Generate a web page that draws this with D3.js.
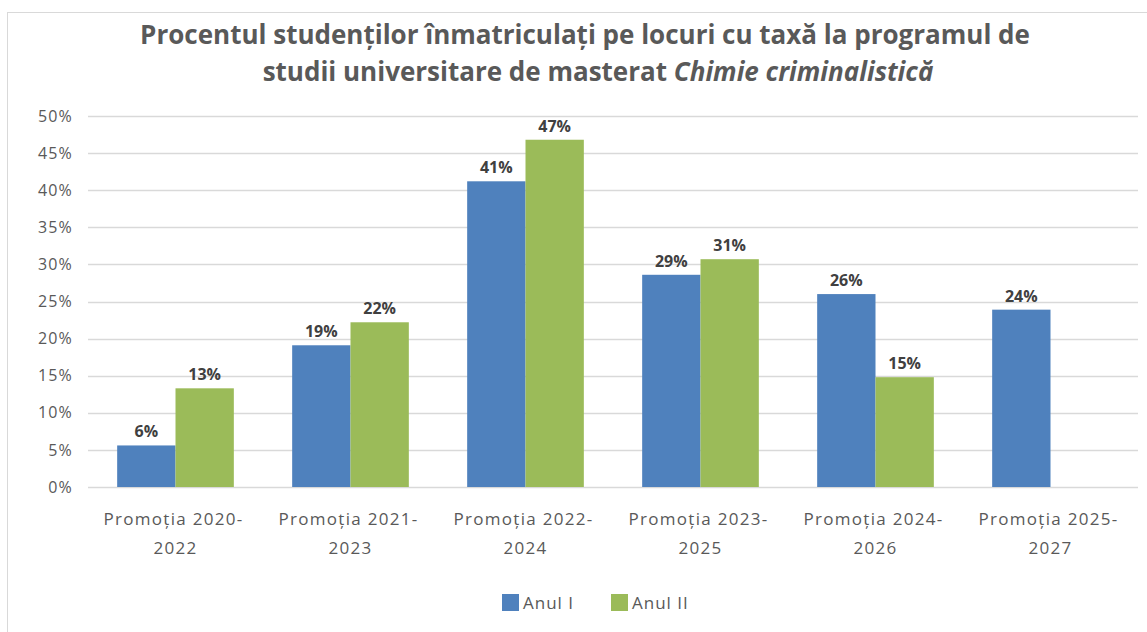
<!DOCTYPE html>
<html>
<head>
<meta charset="utf-8">
<script src="https://cdn.jsdelivr.net/npm/d3@7"></script>
<style>
  body { margin: 0; background: #fff; }
  svg { display: block; font-family: 'Open Sans', sans-serif; }
</style>
</head>
<body>
<script>
let categories = ['Promoția 2020-2022', 'Promoția 2021-2023', 'Promoția 2022-2024',
    'Promoția 2023-2025', 'Promoția 2024-2026', 'Promoția 2025-2027'];
let series = ['Anul I', 'Anul II'];
let anulI = [0.056, 0.191, 0.412, 0.286, 0.26, 0.239];
let anulII = [0.133, 0.222, 0.468, 0.307, 0.148, null];
let yTicks = [0, 0.05, 0.1, 0.15, 0.2, 0.25, 0.3, 0.35, 0.4, 0.45, 0.5];
let colors = ['#4f81bd', '#9bbb59'];

let width = 1147, height = 632;
let margin = { top: 116, right: 9, bottom: 145, left: 88 };

let svg = d3.select('body').append('svg')
    .attr('width', width)
    .attr('height', height);

// chart frame
svg.append('rect')
    .attr('x', 7.5).attr('y', 12.5)
    .attr('width', width).attr('height', height)
    .attr('fill', '#fff')
    .attr('stroke', '#d9d9d9');

// title
let title = svg.append('text')
    .attr('text-anchor', 'middle')
    .attr('fill', '#595959')
    .attr('font-weight', 'bold')
    .attr('font-size', 26);
title.append('tspan').attr('x', 585).attr('y', 44)
    .text('Procentul studenților înmatriculați pe locuri cu taxă la programul de');
let t2 = title.append('tspan').attr('x', 598).attr('y', 81);
t2.append('tspan').text('studii universitare de masterat ');
t2.append('tspan').attr('font-style', 'italic').text('Chimie criminalistică');

let x0 = d3.scaleBand()
    .domain(categories)
    .range([margin.left, width - margin.right])
    .paddingInner(1 / 3)
    .paddingOuter(1 / 6);
let x1 = d3.scaleBand()
    .domain(series)
    .range([0, x0.bandwidth()]);
let y = d3.scaleLinear()
    .domain([0, 0.5])
    .range([height - margin.bottom, margin.top]);

// gridlines
svg.append('g')
    .selectAll('line')
    .data(yTicks)
    .enter()
    .append('line')
    .attr('x1', margin.left)
    .attr('x2', width - margin.right)
    .attr('y1', d => Math.round(y(d)) + 0.5)
    .attr('y2', d => Math.round(y(d)) + 0.5)
    .attr('stroke', '#d9d9d9')
    .attr('stroke-width', 1.5);

// y axis labels
let yAxis = d3.axisLeft(y)
    .tickValues(yTicks)
    .tickFormat(d3.format('.0%'))
    .tickSize(0)
    .tickPadding(15);
let yAxisGroup = svg.append('g')
    .attr('transform', `translate(${margin.left}, 0)`)
    .call(yAxis);
yAxisGroup.select('.domain').remove();
yAxisGroup.selectAll('text')
    .attr('fill', '#595959')
    .attr('font-size', 16)
    .attr('letter-spacing', 1.2)
    .attr('font-family', "'Open Sans', sans-serif");

// bars
let rows = categories.map((c, i) => ({ cat: c, vals: [anulI[i], anulII[i]] }));
let groups = svg.append('g')
    .selectAll('g')
    .data(rows)
    .enter()
    .append('g')
    .attr('transform', d => `translate(${x0(d.cat)}, 0)`);

let cells = groups.selectAll('g')
    .data(d => d.vals.map((v, k) => ({ s: series[k], v: v, k: k })).filter(e => e.v !== null))
    .enter()
    .append('g');

cells.append('rect')
    .attr('x', d => x1(d.s))
    .attr('y', d => y(d.v))
    .attr('width', x1.bandwidth())
    .attr('height', d => y(0) - y(d.v))
    .attr('fill', d => colors[d.k]);

cells.append('text')
    .attr('x', d => x1(d.s) + x1.bandwidth() / 2)
    .attr('y', d => y(d.v) - 8)
    .attr('text-anchor', 'middle')
    .attr('font-size', 16)
    .attr('font-weight', 'bold')
    .attr('fill', '#404040')
    .text(d => d3.format('.0%')(d.v));

// x axis category labels
let catLabels = svg.append('g')
    .selectAll('text')
    .data(categories)
    .enter()
    .append('text')
    .attr('text-anchor', 'middle')
    .attr('fill', '#595959')
    .attr('font-size', 17)
    .attr('letter-spacing', 1.3);
catLabels.append('tspan')
    .attr('x', d => x0(d) + x0.bandwidth() / 2 - 2)
    .attr('y', 525)
    .text(d => d.split('-')[0] + '-');
catLabels.append('tspan')
    .attr('x', d => x0(d) + x0.bandwidth() / 2)
    .attr('y', 554)
    .text(d => d.split('-')[1]);

// legend
let legend = svg.append('g')
    .selectAll('g')
    .data(series)
    .enter()
    .append('g')
    .attr('transform', (d, i) => `translate(${502 + i * 109}, 594)`);
legend.append('rect')
    .attr('width', 17).attr('height', 17)
    .attr('fill', (d, i) => colors[i]);
legend.append('text')
    .attr('x', 21).attr('y', 15)
    .attr('font-size', 17)
    .attr('letter-spacing', 1)
    .attr('fill', '#595959')
    .text(d => d);
</script>
</body>
</html>
